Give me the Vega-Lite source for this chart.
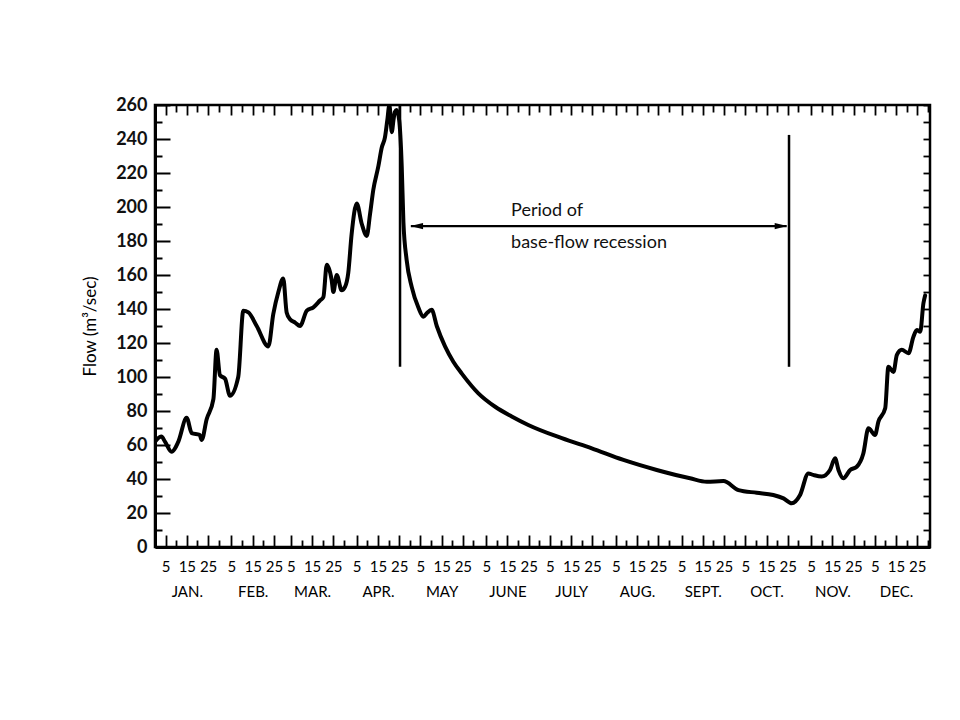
{
  "$schema": "https://vega.github.io/schema/vega-lite/v6.json",
  "width": 775,
  "height": 442,
  "autosize": {"type": "none"},
  "padding": {"left": 155, "top": 105, "right": 30, "bottom": 173},
  "background": "white",
  "config": {
    "view": {"stroke": "black", "strokeWidth": 2.5},
    "font": "Lato"
  },
  "datasets": {
    "flow": [
      {"day": 0, "flow": 62}, {"day": 3, "flow": 65}, {"day": 4.7, "flow": 62}, {"day": 7.8, "flow": 56},
      {"day": 11, "flow": 62}, {"day": 14.9, "flow": 76}, {"day": 17.3, "flow": 67}, {"day": 21, "flow": 66},
      {"day": 22, "flow": 63}, {"day": 24.3, "flow": 75}, {"day": 27.5, "flow": 87}, {"day": 29, "flow": 116},
      {"day": 30.6, "flow": 101}, {"day": 33, "flow": 99}, {"day": 35.3, "flow": 89}, {"day": 39.2, "flow": 100},
      {"day": 41.6, "flow": 139}, {"day": 44, "flow": 138}, {"day": 47.9, "flow": 130}, {"day": 53.4, "flow": 118},
      {"day": 55.7, "flow": 137}, {"day": 58.1, "flow": 150}, {"day": 60.4, "flow": 158}, {"day": 62, "flow": 138},
      {"day": 63.6, "flow": 134}, {"day": 66, "flow": 132}, {"day": 68.3, "flow": 130}, {"day": 71.5, "flow": 139},
      {"day": 74.6, "flow": 141}, {"day": 77.7, "flow": 145}, {"day": 79.3, "flow": 147}, {"day": 80.9, "flow": 166},
      {"day": 83.2, "flow": 157}, {"day": 84, "flow": 150}, {"day": 85.6, "flow": 160}, {"day": 87.9, "flow": 151},
      {"day": 89.5, "flow": 153}, {"day": 91, "flow": 161}, {"day": 92.6, "flow": 184}, {"day": 95, "flow": 202},
      {"day": 97.4, "flow": 190}, {"day": 99.7, "flow": 183}, {"day": 101.3, "flow": 196}, {"day": 102.8, "flow": 210},
      {"day": 105.2, "flow": 224}, {"day": 106.8, "flow": 235}, {"day": 108.3, "flow": 241}, {"day": 109.4, "flow": 251},
      {"day": 110.4, "flow": 260}, {"day": 111.5, "flow": 244}, {"day": 112.3, "flow": 251}, {"day": 113, "flow": 256},
      {"day": 113.8, "flow": 257}, {"day": 115, "flow": 251}, {"day": 116.2, "flow": 224}, {"day": 117, "flow": 191},
      {"day": 118.5, "flow": 169}, {"day": 120.9, "flow": 153}, {"day": 124, "flow": 141}, {"day": 126.4, "flow": 135.5},
      {"day": 128, "flow": 137.5}, {"day": 130.3, "flow": 139.5}, {"day": 132.7, "flow": 130}, {"day": 136.6, "flow": 118},
      {"day": 140.5, "flow": 109}, {"day": 144.5, "flow": 102}, {"day": 152.3, "flow": 90.4}, {"day": 160.2, "flow": 82.5},
      {"day": 168, "flow": 76.8}, {"day": 175.8, "flow": 71.8}, {"day": 191.6, "flow": 64}, {"day": 205.7, "flow": 58},
      {"day": 220.6, "flow": 51.2}, {"day": 236.3, "flow": 45.3}, {"day": 252, "flow": 40.4}, {"day": 259.9, "flow": 38.4},
      {"day": 267.7, "flow": 38.8}, {"day": 274.8, "flow": 33.5}, {"day": 283.4, "flow": 31.9}, {"day": 291.2, "flow": 30.6},
      {"day": 296, "flow": 28.6}, {"day": 299.9, "flow": 25.7}, {"day": 303.8, "flow": 30.6}, {"day": 307.7, "flow": 43.3},
      {"day": 310, "flow": 42.4}, {"day": 314, "flow": 41.4}, {"day": 317.9, "flow": 45.3}, {"day": 320.3, "flow": 52.2},
      {"day": 321.9, "flow": 45.3}, {"day": 324.2, "flow": 40.4}, {"day": 327.4, "flow": 45.3}, {"day": 330.5, "flow": 47.2},
      {"day": 333.6, "flow": 55}, {"day": 336, "flow": 69.8}, {"day": 339.1, "flow": 65.9}, {"day": 340.7, "flow": 73.7},
      {"day": 343.9, "flow": 81.6}, {"day": 345.4, "flow": 106}, {"day": 347.8, "flow": 103}, {"day": 349.4, "flow": 113},
      {"day": 351.7, "flow": 116}, {"day": 354.9, "flow": 114}, {"day": 357.2, "flow": 123.7}, {"day": 358.8, "flow": 127.6},
      {"day": 360.4, "flow": 126.6}, {"day": 361.9, "flow": 143.4}, {"day": 362.7, "flow": 148}
    ],
    "marks": [
      {"day": 115.4, "low": 106, "high": 260},
      {"day": 298.6, "low": 106, "high": 242.4}
    ],
    "arrow": [
      {"start": 120.5, "end": 297.5, "flow": 188.8}
    ],
    "heads": [
      {"day": 120.3, "flow": 188.8, "direction": "left"},
      {"day": 297.8, "flow": 188.8, "direction": "right"}
    ],
    "notes": [
      {"day": 167.7, "flow": 197.6, "text": "Period of"},
      {"day": 167.7, "flow": 178.8, "text": "base-flow  recession"}
    ]
  },
  "layer": [
    {
      "data": {"name": "flow"},
      "mark": {"type": "line", "color": "black", "strokeWidth": 4, "strokeJoin": "round", "strokeCap": "round", "interpolate": "monotone", "clip": true},
      "encoding": {
        "x": {
          "field": "day", "type": "quantitative",
          "scale": {"domain": [0, 365], "nice": false, "zero": false},
          "axis": {
            "orient": "bottom",
            "title": null,
            "values": [5,10,15,20,25,30,36,41,46,51,56,64,69,74,79,84,89,95,100,105,110,115,120,125,130,135,140,145,150,156,161,166,171,176,181,186,191,196,201,206,211,217,222,227,232,237,242,248,253,258,263,268,273,278,283,288,293,298,303,309,314,319,324,329,334,339,344,349,354,359,364],
            "grid": false,
            "domain": true,
            "domainColor": "black",
            "domainWidth": 3,
            "tickColor": "black",
            "tickWidth": 1.8,
            "tickSize": {"condition": {"test": "date(datetime(2001,0,datum.value)) % 10 == 5", "value": -12}, "value": -7},
            "labelPadding": 24,
            "labelFont": "Lato",
            "labelFontSize": 15,
            "labelColor": "#000000",
            "labelBaseline": "top",
            "labelAlign": "center",
            "labelLineHeight": 25,
            "labelFlush": false,
            "labelOverlap": false,
            "labelExpr": "date(datetime(2001,0,datum.value)) == 15 ? ['15', ['JAN.','FEB.','MAR.','APR.','MAY','JUNE','JULY','AUG.','SEPT.','OCT.','NOV.','DEC.'][month(datetime(2001,0,datum.value))]] : (date(datetime(2001,0,datum.value)) % 10 == 5 ? '' + date(datetime(2001,0,datum.value)) : '')"
          }
        },
        "y": {
          "field": "flow", "type": "quantitative",
          "scale": {"domain": [0, 260], "nice": false, "zero": true},
          "axis": {
            "orient": "left",
            "title": "Flow (m³/sec)",
            "titleFont": "Lato",
            "titleFontSize": 17,
            "titleFontWeight": "normal",
            "titleColor": "#000000",
            "titlePadding": 16,
            "values": [0,10,20,30,40,50,60,70,80,90,100,110,120,130,140,150,160,170,180,190,200,210,220,230,240,250,260],
            "grid": false,
            "domain": true,
            "domainColor": "black",
            "domainWidth": 3,
            "tickColor": "black",
            "tickWidth": 2,
            "tickSize": {"condition": {"test": "datum.value % 20 == 0", "value": -15}, "value": -7},
            "labelPadding": 23,
            "labelFont": "Lato",
            "labelFontSize": 18,
            "labelFontWeight": "bold",
            "labelColor": "#111111",
            "labelFlush": false,
            "labelOverlap": false,
            "labelExpr": "datum.value % 20 == 0 ? datum.label : ''"
          }
        }
      }
    },
    {
      "data": {"name": "marks"},
      "mark": {"type": "rule", "color": "black", "strokeWidth": 2.5},
      "encoding": {
        "x": {
          "field": "day", "type": "quantitative",
          "scale": {"domain": [0, 365], "nice": false, "zero": false},
          "axis": {
            "orient": "top",
            "title": null,
            "values": [5,10,15,20,25,30,36,41,46,51,56,64,69,74,79,84,89,95,100,105,110,115,120,125,130,135,140,145,150,156,161,166,171,176,181,186,191,196,201,206,211,217,222,227,232,237,242,248,253,258,263,268,273,278,283,288,293,298,303,309,314,319,324,329,334,339,344,349,354,359,364],
            "grid": false,
            "domain": false,
            "labels": false,
            "tickColor": "black",
            "tickWidth": 1.8,
            "tickSize": {"condition": {"test": "date(datetime(2001,0,datum.value)) % 10 == 5", "value": -10}, "value": -7}
          }
        },
        "y": {
          "field": "low", "type": "quantitative",
          "scale": {"domain": [0, 260], "nice": false, "zero": true},
          "axis": {
            "orient": "right",
            "title": null,
            "values": [0,10,20,30,40,50,60,70,80,90,100,110,120,130,140,150,160,170,180,190,200,210,220,230,240,250,260],
            "grid": false,
            "domain": false,
            "labels": false,
            "tickColor": "black",
            "tickWidth": 1.8,
            "tickSize": -7
          }
        },
        "y2": {"field": "high"}
      }
    },
    {
      "data": {"name": "arrow"},
      "mark": {"type": "rule", "color": "black", "strokeWidth": 2.2},
      "encoding": {
        "x": {"field": "start", "type": "quantitative", "scale": {"domain": [0, 365], "nice": false, "zero": false}, "axis": null},
        "x2": {"field": "end"},
        "y": {"field": "flow", "type": "quantitative", "scale": {"domain": [0, 260], "nice": false, "zero": true}, "axis": null}
      }
    },
    {
      "data": {"name": "heads"},
      "mark": {"type": "point", "filled": true, "color": "black", "opacity": 1, "size": 160},
      "encoding": {
        "x": {"field": "day", "type": "quantitative", "scale": {"domain": [0, 365], "nice": false, "zero": false}, "axis": null},
        "y": {"field": "flow", "type": "quantitative", "scale": {"domain": [0, 260], "nice": false, "zero": true}, "axis": null},
        "shape": {
          "field": "direction", "type": "nominal",
          "scale": {"domain": ["left", "right"], "range": ["M0,0L2,-0.5L2,0.5Z", "M0,0L-2,-0.5L-2,0.5Z"]},
          "legend": null
        }
      }
    },
    {
      "data": {"name": "notes"},
      "mark": {"type": "text", "align": "left", "baseline": "middle", "font": "Lato", "fontSize": 18, "color": "#111111"},
      "encoding": {
        "x": {"field": "day", "type": "quantitative", "scale": {"domain": [0, 365], "nice": false, "zero": false}, "axis": null},
        "y": {"field": "flow", "type": "quantitative", "scale": {"domain": [0, 260], "nice": false, "zero": true}, "axis": null},
        "text": {"field": "text"}
      }
    }
  ],
  "resolve": {"axis": {"x": "independent", "y": "independent"}}
}
